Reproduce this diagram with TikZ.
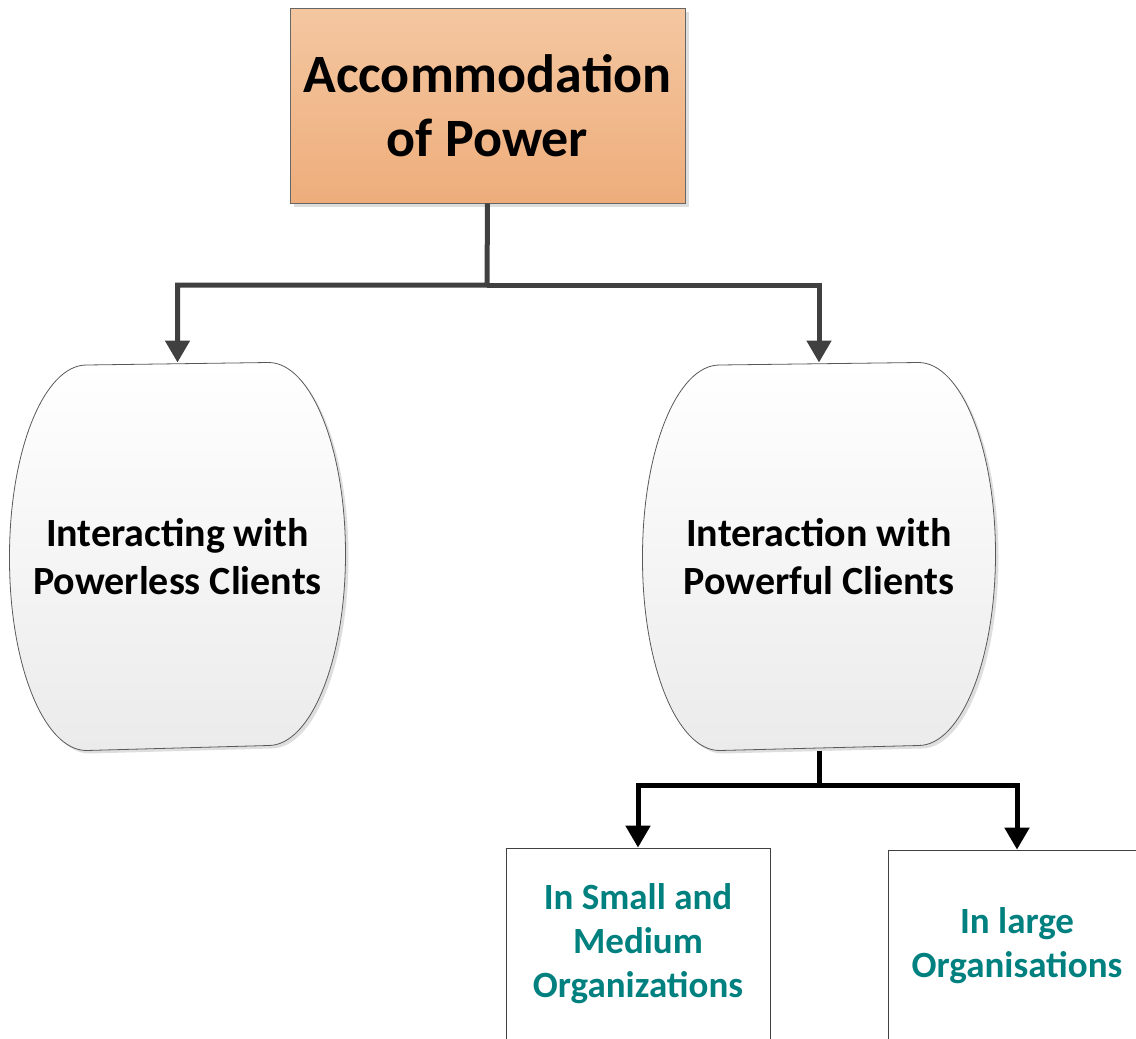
\documentclass[tikz,border=0pt]{standalone}
\usepackage{fontspec}
\setmainfont{Carlito}
\usetikzlibrary{arrows.meta,backgrounds,shadows}
\definecolor{peachtop}{HTML}{F4C7A1}
\definecolor{peachbot}{HTML}{EEAD7B}
\definecolor{linegrey}{HTML}{404040}
\definecolor{tealtext}{HTML}{00807F}
\definecolor{ovalbot}{HTML}{EBEBEB}

\begin{document}
\begin{tikzpicture}[
	x=1pt, y=-1pt,
	align=center,
	line width=5pt,
	shadowit/.style={
		drop shadow={shadow xshift=#1, shadow yshift=-#1, fill=black!13, opacity=1}
	},
	shadowit/.default=4pt,
	topic/.style={rectangle, draw=black!60, line width=0.8pt, top color=peachtop, bottom color=peachbot,
		minimum width=395pt, minimum height=195pt, inner sep=0pt, shadowit,
		font=\fontsize{54}{64}\selectfont\bfseries},
	client/.style={rectangle, inner sep=0pt, minimum height=383pt,
		font=\fontsize{40}{48}\selectfont\bfseries},
	oval/.style={draw=black!65, line width=0.8pt, line join=round, top color=white, bottom color=ovalbot, shadowit=3pt},
	org/.style={rectangle, draw=black!75, line width=0.8pt, fill=white, inner sep=0pt,
		minimum height=192pt, text=tealtext, font=\fontsize{37}{44}\selectfont\bfseries},
	link/.style={draw=#1, line width=5pt, -{Triangle[length=22pt,width=24pt]}},
	link/.default=linegrey
	]
    \useasboundingbox (0,0) rectangle (1136,1039);
    \clip (0,0) rectangle (1136,1039);

    % accommodation
    \node[topic] at (487.5,105.5) (accom) {Accommodation\\of Power};

    % clients
    \node[client, minimum width=331pt] at (177.5,556.5) (powerless) {Interacting with\\Powerless Clients};
    \node[client, minimum width=348pt] at (819,556.5) (powerful) {Interaction with\\Powerful Clients};

    % organisations
    \node[org, minimum width=264pt] at (638,944) (smallorg) {In Small and\\Medium\\Organizations};
    \node[org, minimum width=258pt] at (1017,946) (largeorg) {In large\\Organisations};

    % links
    \coordinate (forkA) at (487,285);
    \coordinate (forkB) at (819,785);
    \draw[link] (accom.south) -- (forkA) -| (powerless.north);
    \draw[link] (forkA) -| (powerful.north);
    \draw[link=black] (powerful.south) -- (forkB) -| (smallorg.north);
    \draw[link=black] (forkB) -| (largeorg.north);

    % oval outlines
    \begin{scope}[on background layer]
    \foreach \n in {powerless,powerful}
    \path[oval] (\n.west)
        arc[start angle=180, end angle=90, x radius=77pt, y radius=191.5pt]
        -- ([xshift=-77pt]\n.north east)
        arc[start angle=90, end angle=-90, x radius=77pt, y radius=191.5pt]
        -- ([xshift=77pt]\n.south west)
        arc[start angle=270, end angle=180, x radius=77pt, y radius=191.5pt] -- cycle;
    \end{scope}
\end{tikzpicture}
\end{document}
